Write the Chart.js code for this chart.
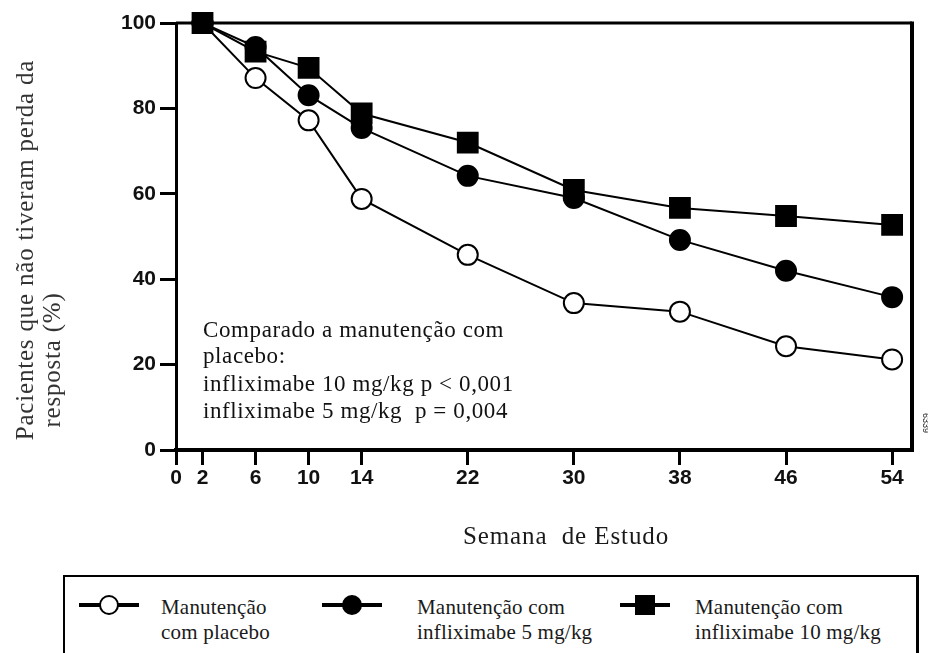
<!DOCTYPE html>
<html>
<head>
<meta charset="utf-8">
<script src="https://cdn.jsdelivr.net/npm/chart.js@4.4.1/dist/chart.umd.min.js"></script>
<style>
  html, body { margin:0; padding:0; background:#fff; }
  #wrap { position:relative; width:928px; height:653px; overflow:hidden; }
  #chart { position:absolute; left:0; top:0; }
  #legend { position:absolute; left:63px; top:575px; width:856px; height:100px;
    border:2px solid #000; border-right-width:3px; box-sizing:border-box; }
  #legend svg { position:absolute; top:16px; }
  #legend span { position:absolute; top:18px; font-family:"Liberation Serif","Times New Roman",serif;
    font-size:21px; line-height:25px; color:#1a1a1a; white-space:nowrap; letter-spacing:0.2px; }
</style>
</head>
<body>
<div id="wrap">
  <canvas id="chart" width="928" height="570"></canvas>
  <div id="legend"></div>
</div>
<script>
// weeks on study
const WEEKS = [2, 6, 10, 14, 22, 30, 38, 46, 54];
const X_TICKS = [0, 2, 6, 10, 14, 22, 30, 38, 46, 54];
const Y_TICKS = [0, 20, 40, 60, 80, 100];

// % patients without loss of response
const PLACEBO = [100, 87.1, 77.2, 58.8, 45.7, 34.4, 32.4, 24.3, 21.2];
const INFLIX_5 = [100, 94.4, 83.1, 75.4, 64.2, 59.0, 49.2, 42.0, 35.8];
const INFLIX_10 = [100, 93.3, 89.5, 78.8, 72.0, 60.9, 56.7, 54.8, 52.7];

const LABELS = [
  ['Manutenção', 'com placebo'],
  ['Manutenção com', 'infliximabe 5 mg/kg'],
  ['Manutenção com', 'infliximabe 10 mg/kg']
];

const NOTE = [
  'Comparado a manutenção com',
  'placebo:',
  'infliximabe 10 mg/kg p < 0,001',
  'infliximabe 5 mg/kg  p = 0,004'
];

const pts = (vals) => WEEKS.map((w, i) => ({ x: w, y: vals[i] }));
const serif = '"Liberation Serif","Times New Roman",serif';

const ds = (label, vals, style, fill, r, order) => ({
  label, data: pts(vals), order,
  borderColor: '#000', borderWidth: 2, tension: 0, clip: false,
  pointStyle: style, pointRadius: r, pointHoverRadius: r,
  pointBackgroundColor: fill, pointBorderColor: '#000', pointBorderWidth: 2
});

// frame + texts drawn on top of the plot
const extras = {
  id: 'extras',
  afterDraw(chart) {
    const { ctx, chartArea: a } = chart;
    ctx.save();
    ctx.strokeStyle = '#000';
    ctx.lineWidth = 3;
    ctx.beginPath();
    ctx.moveTo(a.left, a.top); ctx.lineTo(a.right, a.top);
    ctx.stroke();
    ctx.lineWidth = 4;
    ctx.beginPath();
    ctx.moveTo(a.right, a.top - 1.5); ctx.lineTo(a.right, a.bottom + 2);
    ctx.stroke();

    // note inside plot
    ctx.fillStyle = '#111';
    ctx.font = '23px ' + serif;
    ctx.letterSpacing = '0.6px';
    ctx.textBaseline = 'alphabetic';
    ctx.textAlign = 'left';
    const base = [337, 363, 391, 418];
    NOTE.forEach((t, i) => ctx.fillText(t, a.left + 27, base[i]));

    // x title
    ctx.fillStyle = '#1a1a1a';
    ctx.font = '25px ' + serif;
    ctx.letterSpacing = '0.9px';
    ctx.textAlign = 'center';
    ctx.textBaseline = 'middle';
    ctx.fillText('Semana  de Estudo', 566, 537);

    // y title (rotated)
    ctx.letterSpacing = '0.8px';
    ctx.fillStyle = '#333';
    ctx.save();
    ctx.translate(26, 250);
    ctx.rotate(-Math.PI / 2);
    ctx.fillText('Pacientes que não tiveram perda da', 0, 0);
    ctx.restore();
    ctx.save();
    ctx.translate(53, 360);
    ctx.rotate(-Math.PI / 2);
    ctx.fillText('resposta (%)', 0, 0);
    ctx.restore();

    // figure id
    ctx.save();
    ctx.letterSpacing = '0px';
    ctx.translate(925, 423);
    ctx.rotate(Math.PI / 2);
    ctx.font = '9px "Liberation Sans",Arial,sans-serif';
    ctx.fillStyle = '#222';
    ctx.fillText('6339', 0, 0);
    ctx.restore();
    ctx.restore();
  }
};

const tickFont = { family: '"Liberation Sans",Arial,sans-serif', size: 21, weight: 'bold' };

new Chart(document.getElementById('chart'), {
  type: 'line',
  data: {
    datasets: [
      ds(LABELS[0].join(' '), PLACEBO, 'circle', '#fff', 10, 3),
      ds(LABELS[1].join(' '), INFLIX_5, 'circle', '#000', 10, 2),
      ds(LABELS[2].join(' '), INFLIX_10, 'rect', '#000', 14, 1)
    ]
  },
  options: {
    responsive: false,
    animation: false,
    events: [],
    layout: { padding: { top: 23, right: 11, left: 0, bottom: 0 } },
    plugins: { legend: { display: false }, tooltip: { enabled: false } },
    scales: {
      x: {
        type: 'linear', min: 0, max: 55.5,
        afterBuildTicks: (s) => { s.ticks = X_TICKS.map(v => ({ value: v })); },
        afterFit: (s) => { s.height = 120; },
        border: { display: true, color: '#000', width: 4 },
        grid: { drawOnChartArea: false, drawTicks: true, tickLength: 15, color: '#000', lineWidth: 3 },
        ticks: { color: '#111', font: tickFont, padding: 1, maxRotation: 0, autoSkip: false }
      },
      y: {
        min: 0, max: 100,
        afterBuildTicks: (s) => { s.ticks = Y_TICKS.map(v => ({ value: v })); },
        afterFit: (s) => { s.width = 176; },
        border: { display: true, color: '#000', width: 3 },
        grid: { drawOnChartArea: false, drawTicks: true, tickLength: 16, color: '#000', lineWidth: 3 },
        ticks: { color: '#111', font: tickFont, padding: 4 }
      }
    }
  },
  plugins: [extras]
});

// legend box below the chart
const SYMS = [
  { fill: '#fff', shape: 'circle', sx: 14, sw: 60, tx: 96 },
  { fill: '#000', shape: 'circle', sx: 257, sw: 60, tx: 352 },
  { fill: '#000', shape: 'rect', sx: 555, sw: 50, tx: 630 }
];
const leg = document.getElementById('legend');
SYMS.forEach((s, i) => {
  const c = s.sw / 2;
  const mark = s.shape === 'circle'
    ? `<circle cx="${c}" cy="12" r="9" fill="${s.fill}" stroke="#000" stroke-width="2"/>`
    : `<rect x="${c - 10}" y="2" width="20" height="20" fill="#000"/>`;
  leg.insertAdjacentHTML('beforeend',
    `<svg style="left:${s.sx}px" width="${s.sw}" height="24"><line x1="0" y1="12" x2="${s.sw}" y2="12" stroke="#000" stroke-width="4"/>${mark}</svg>` +
    `<span style="left:${s.tx}px">${LABELS[i][0]}<br>${LABELS[i][1]}</span>`);
});
</script>
</body>
</html>
